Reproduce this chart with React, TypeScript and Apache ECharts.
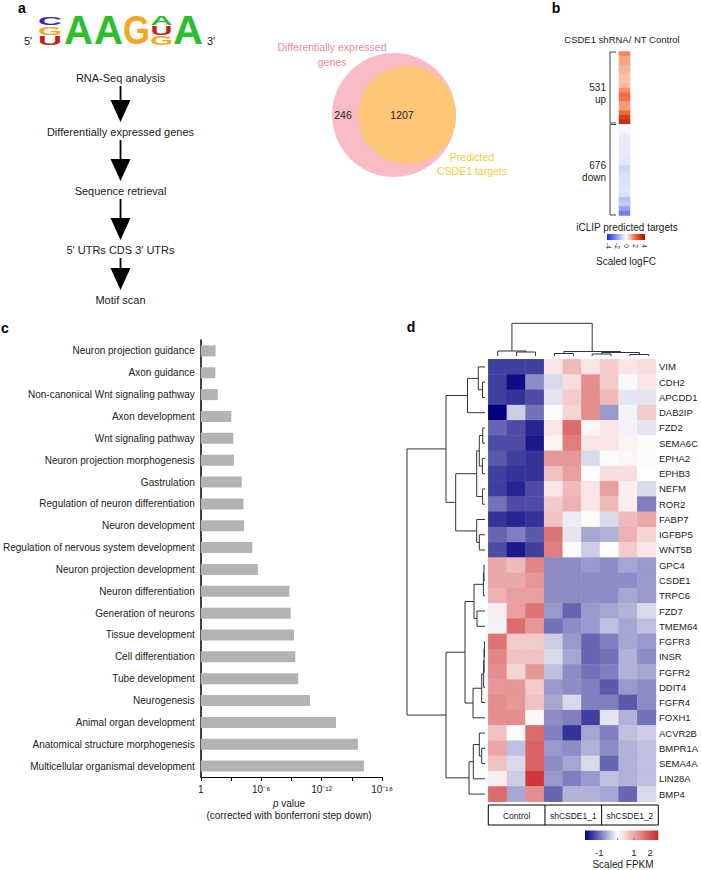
import React, { useEffect, useRef } from "react";
import * as echarts from "echarts";

const FONT = '"Liberation Sans", Arial, Helvetica, sans-serif';
const INK = "#222222";

// ---------- panel c : GO terms ----------
const goTerms = [
  "Neuron projection guidance",
  "Axon guidance",
  "Non-canonical Wnt signaling pathway",
  "Axon development",
  "Wnt signaling pathway",
  "Neuron projection morphogenesis",
  "Gastrulation",
  "Regulation of neuron differentiation",
  "Neuron development",
  "Regulation of nervous system development",
  "Neuron projection development",
  "Neuron differentiation",
  "Generation of neurons",
  "Tissue development",
  "Cell differentiation",
  "Tube development",
  "Neurogenesis",
  "Animal organ development",
  "Anatomical structure morphogenesis",
  "Multicellular organismal development",
];
// -log10(p)
const goNegLog10P = [1.47, 1.45, 1.69, 3.03, 3.23, 3.29, 4.07, 4.24, 4.3, 5.12, 5.67, 8.8, 8.93, 9.26, 9.39, 9.68, 10.86, 13.43, 15.6, 16.2];
const pTickStep = 3;
const pLabelStep = 6;
const pMax = 18;

// ---------- panel d : heatmap ----------
const samples = ["C1", "C2", "C3", "sh1a", "sh1b", "sh1c", "sh2a", "sh2b", "sh2c"];
const sampleGroups = ["Control", "shCSDE1_1", "shCSDE1_2"];
const genes = [
  "VIM", "CDH2", "APCDD1", "DAB2IP", "FZD2", "SEMA6C", "EPHA2", "EPHB3", "NEFM", "ROR2",
  "FABP7", "IGFBP5", "WNT5B", "GPC4", "CSDE1", "TRPC6", "FZD7", "TMEM64", "FGFR3", "INSR",
  "FGFR2", "DDIT4", "FGFR4", "FOXH1", "ACVR2B", "BMPR1A", "SEMA4A", "LIN28A", "BMP4",
];
const scaledFpkm = [
  [-1.5, -1.5, -1.5, 0.3, 0.8, 0.3, 0.6, 0.3, 0.4],
  [-1.5, -1.9, -0.9, -0.3, 0.4, 1.3, 0.6, -0.05, 0.3],
  [-1.5, -1.6, -1.4, -0.2, 0.6, 1.3, 0.8, -0.2, -0.2],
  [-2.0, -0.4, -1.1, 0.05, 0.5, 1.3, -0.8, -0.1, 0.6],
  [-1.2, -1.4, -1.7, 0.3, 1.7, 0.1, 0.3, -0.1, -0.2],
  [-1.4, -1.4, -1.8, 0.15, 1.5, 0.3, 0.3, 0.15, 0.05],
  [-1.3, -1.5, -1.6, 1.2, 1.2, -0.3, 0.05, 0.1, 0.05],
  [-1.5, -1.6, -1.6, 0.7, 1.1, 0.0, 0.4, 0.4, 0.0],
  [-1.5, -1.7, -1.4, 0.3, 0.8, 0.3, 1.1, 0.2, -0.3],
  [-1.1, -1.4, -1.4, 0.6, 0.9, 0.3, 0.8, 0.2, -1.0],
  [-1.6, -1.7, -1.6, 0.7, -0.15, 0.05, -0.3, 0.8, 1.0],
  [-1.2, -1.0, -1.3, 1.6, -0.2, -0.7, -0.6, 0.9, 0.5],
  [-1.4, -1.8, -1.5, 1.5, 0.05, -0.4, 0.0, 0.6, 0.3],
  [1.0, 0.8, 1.4, -0.9, -0.9, -0.8, -0.9, -0.7, -0.8],
  [1.0, 1.0, 1.2, -0.9, -0.9, -0.9, -0.9, -0.9, -0.8],
  [0.9, 1.1, 1.1, -0.9, -0.9, -0.9, -0.9, -0.7, -0.8],
  [0.2, 1.1, 1.6, -0.8, -1.2, -0.8, -0.7, -0.6, -0.3],
  [-0.1, 1.7, 1.2, -1.1, -0.9, -0.8, -0.5, -0.7, -0.5],
  [1.6, 0.6, 0.6, -0.4, -0.8, -1.2, -1.0, -0.7, -0.8],
  [1.4, 0.7, 0.7, -0.3, -0.7, -1.2, -1.1, -0.6, -0.9],
  [1.3, 0.5, 1.2, -0.5, -0.9, -1.1, -1.0, -0.6, -0.7],
  [1.2, 1.2, 0.6, -0.8, -0.9, -1.0, -1.3, -0.8, -0.9],
  [1.3, 1.2, 0.7, -0.7, -0.3, -1.0, -1.0, -1.3, -0.9],
  [1.3, 1.3, 0.1, -0.9, -1.0, -1.5, -0.2, -0.6, -1.1],
  [0.7, 0.05, 1.7, -1.0, -1.6, -0.7, -1.0, -0.5, -0.4],
  [1.0, -0.5, 1.8, -0.8, -0.9, -0.6, -0.9, -0.6, -0.5],
  [0.7, -0.3, 1.8, -0.9, -0.7, -0.3, -1.2, -0.6, -0.5],
  [0.2, -0.4, 2.3, -0.8, -1.0, -0.8, -0.5, -0.6, -0.5],
  [1.7, -0.7, 1.3, -1.2, -0.6, -0.6, -0.7, -1.2, -0.3],
];
// dendrograms: [mergeHeight, left, right]; leaves are row / column indices
const rowTree: any = [78,
  [39,
    [17.5, [6.7, 0, [2.5, 1, 2]], 3],
    [29.3, [8.3, [5.7, [2.3, 4, 5], [2.6, 6, 7]], [2.4, 8, 9]], [8.3, 10, [5.7, 11, 12]]]],
  [39,
    [20,
      [11, [1.6, [1, 13, 14], 15], [8, 16, 17]],
      [12, [3.3, [1.4, [0.9, [0.6, 18, 19], 20], 21], 22], 23]],
    [16, [11.7, [5.7, 24, [3.3, 25, 26]], 27], 28]],
];
const colTree: any = [32.7, [5, 0, [4, 1, 2]], [4.5, [2.5, 3, 4], [3.5, [2, 5, 6], [1.5, 7, 8]]]];
const fpkmColors = ["#000080", "#4040A0", "#8080C0", "#BFBFDF", "#FFFFFF", "#F5D4D4", "#EBA8A8", "#E17D7D", "#D75151", "#CD2626"];
const fpkmMin = -2;
const fpkmMax = 2.5;
const fpkmTicks = [-1, 0, 1, 2];
const fpkmTickLabels = ["-1", "", "1", "2"];

// ---------- panel b : logFC strip ----------
const stripUp = [1.6, 1.2, 1.2, 1.0, 1.0, 0.8, 0.8, 0.9, 1.4, 1.9, 1.8, 1.3, 1.3, 2.0, 2.8, 3.2];
const stripDown = [-0.15, -0.2, -0.35, -0.4, -0.4, -0.35, -0.4, -0.45, -0.5, -0.8, -0.7, -0.6, -0.6, -0.55, -0.5, -0.6, -1.2, -1.0, -1.8, -2.4];
const upCount = 531;
const downCount = 676;
const logfcColors = ["#1428E6", "#8C96F0", "#FFFFFF", "#F56432", "#961405"];
const logfcTicks = ["-4", "-2", "0", "2", "4"];

// ---------- panel a : venn + pipeline ----------
const vennOnlyDE = 246;
const vennBoth = 1207;
const flowSteps = ["RNA-Seq analysis", "Differentially expressed genes", "Sequence retrieval", "5\u2032 UTRs CDS 3\u2032 UTRs", "Motif scan"];

const SUP: Record<string, string> = { "0": "\u2070", "1": "\u00b9", "2": "\u00b2", "3": "\u00b3", "4": "\u2074", "5": "\u2075", "6": "\u2076", "7": "\u2077", "8": "\u2078", "9": "\u2079", "-": "\u207b" };
const sup = (s: string) => s.split("").map((c) => SUP[c] || c).join("");

function dendroSegments(tree: any, horizontal: boolean) {
  const out: any[] = [];
  const walk = (n: any): { p: number; h: number } => {
    if (typeof n === "number") return { p: n, h: 0 };
    const l = walk(n[1]);
    const r = walk(n[2]);
    const h = n[0];
    const pts = [[l.p, l.h], [l.p, h], [r.p, h], [r.p, r.h]];
    out.push({ coords: horizontal ? pts.map(([p, v]) => [v, p]) : pts });
    return { p: (l.p + r.p) / 2, h };
  };
  walk(tree);
  return out;
}

function txt(x: number, y: number, text: string, size: number, opts: any = {}) {
  return {
    type: "text",
    x,
    y,
    rotation: opts.rotation || 0,
    silent: true,
    style: {
      text,
      fill: opts.fill || INK,
      fontSize: size,
      fontFamily: FONT,
      fontWeight: opts.weight || "normal",
      align: opts.align || "center",
      verticalAlign: "middle",
      rich: opts.rich,
    },
  };
}

function logoLetter(cx: number, cy: number, ch: string, color: string, w: number, h: number) {
  const widths: Record<string, number> = { A: 0.722, C: 0.722, G: 0.778, U: 0.722 };
  const fs = 40;
  return {
    type: "text",
    x: cx,
    y: cy,
    scaleX: w / (widths[ch] * fs),
    scaleY: h / (0.729 * fs),
    silent: true,
    style: { text: ch, fill: color, fontSize: fs, fontFamily: FONT, fontWeight: "bold", align: "center", verticalAlign: "middle" },
  };
}

function gradStops(colors: string[]) {
  return colors.map((c, i) => ({ offset: i / (colors.length - 1), color: c }));
}

export default function App() {
  const ref = useRef<HTMLDivElement>(null);
  useEffect(() => {
    if (!ref.current) return;
    const chart = echarts.init(ref.current, undefined, { renderer: "svg" });

    const heatData: any[] = [];
    scaledFpkm.forEach((row, r) => row.forEach((v, c) => heatData.push([c, r, v])));
    const strip = [...stripUp, ...stripDown];
    const stripData = strip.map((v, i) => [0, i, v]);

    const BLUE = "#2B2BC8", GREEN = "#2DBE2D", ORANGE = "#F5A623", RED = "#C21F1F";
    const g: any[] = [];
    // panel labels
    g.push(txt(22, 8, "a", 14, { weight: "bold", fill: "#000" }));
    g.push(txt(556, 8, "b", 14, { weight: "bold", fill: "#000" }));
    g.push(txt(5, 328, "c", 14, { weight: "bold", fill: "#000" }));
    g.push(txt(411, 327, "d", 14, { weight: "bold", fill: "#000" }));
    // motif logo
    g.push(txt(28, 41, "5\u2032", 11));
    g.push(txt(211, 41, "3\u2032", 11));
    g.push(logoLetter(50, 21, "C", BLUE, 24, 8.5));
    g.push(logoLetter(50, 31, "G", ORANGE, 24, 8.5));
    g.push(logoLetter(50, 40.5, "U", RED, 24, 9));
    g.push(logoLetter(78.5, 30.5, "A", GREEN, 29, 29));
    g.push(logoLetter(108.5, 30.5, "A", GREEN, 29, 29));
    g.push(logoLetter(136.5, 30.5, "G", ORANGE, 27, 29));
    g.push(logoLetter(161.5, 20.5, "A", GREEN, 22, 9));
    g.push(logoLetter(161.5, 30.5, "U", RED, 22, 9));
    g.push(logoLetter(161.5, 40.5, "G", ORANGE, 23, 9));
    g.push(logoLetter(188, 30.5, "A", GREEN, 30, 29));
    // flow chart
    const flowY = [78, 132, 191, 250, 300];
    flowSteps.forEach((s, i) => {
      g.push(txt(120.5, flowY[i], s, 11));
      if (i < flowSteps.length - 1) {
        const tip = flowY[i + 1] - 10;
        g.push({ type: "line", silent: true, shape: { x1: 120.5, y1: flowY[i] + 8, x2: 120.5, y2: tip - 20 }, style: { stroke: "#000", lineWidth: 1.8 } });
        g.push({ type: "polygon", silent: true, shape: { points: [[110.5, tip - 22], [130.5, tip - 22], [120.5, tip]] }, style: { fill: "#000" } });
      }
    });
    // venn
    g.push({ type: "circle", silent: true, shape: { cx: 394, cy: 115, r: 62 }, style: { fill: "#F9BCC4" } });
    g.push({ type: "circle", silent: true, shape: { cx: 407, cy: 115, r: 49 }, style: { fill: "#FCC877" } });
    g.push(txt(343, 115, String(vennOnlyDE), 10.5));
    g.push(txt(402, 115, String(vennBoth), 10.5));
    g.push(txt(332, 47, "Differentially expressed", 10.5, { fill: "#EF8A94" }));
    g.push(txt(332, 62, "genes", 10.5, { fill: "#EF8A94" }));
    g.push(txt(472, 157, "Predicted", 10.5, { fill: "#F0CD3A" }));
    g.push(txt(472, 171, "CSDE1 targets", 10.5, { fill: "#F0CD3A" }));
    // panel b texts
    g.push(txt(622, 39, "CSDE1 shRNA/ NT Control", 9.5));
    g.push(txt(606, 87, String(upCount), 10, { align: "right" }));
    g.push(txt(606, 99, "up", 10, { align: "right" }));
    g.push(txt(606, 165, String(downCount), 10, { align: "right" }));
    g.push(txt(606, 177, "down", 10, { align: "right" }));
    const bracket = (y1: number, y2: number) => ({
      type: "polyline", silent: true,
      shape: { points: [[616, y1], [610, y1], [610, y2], [616, y2]] },
      style: { stroke: "#444", lineWidth: 1, fill: null },
    });
    g.push(bracket(52, 123));
    g.push(bracket(124.5, 215));
    g.push(txt(627, 227, "iCLIP predicted targets", 10));
    g.push({ type: "rect", silent: true, shape: { x: 607, y: 234, width: 38, height: 6 },
      style: { fill: new echarts.graphic.LinearGradient(0, 0, 1, 0, gradStops(logfcColors)) } });
    logfcTicks.forEach((t, i) => g.push(txt(608.5 + i * 8.9, 246, t, 6.5, { rotation: -Math.PI / 2 })));
    g.push(txt(626, 261, "Scaled logFC", 10));
    // panel c axis title
    g.push({ type: "text", x: 289, y: 803, silent: true,
      style: { text: "{i|p} value", fill: INK, fontSize: 10, fontFamily: FONT, align: "center", verticalAlign: "middle",
        rich: { i: { fontStyle: "italic", fontSize: 10, fontFamily: FONT, fill: INK } } } });
    g.push(txt(289, 815, "(corrected with bonferroni step down)", 10));
    // panel d annotation boxes
    const cw = 170 / 9;
    g.push({ type: "rect", silent: true, shape: { x: 488.3, y: 805, width: 170, height: 20 }, style: { fill: "none", stroke: "#000", lineWidth: 1 } });
    sampleGroups.forEach((s, i) => {
      if (i > 0) g.push({ type: "line", silent: true, shape: { x1: 488.3 + i * 3 * cw, y1: 805, x2: 488.3 + i * 3 * cw, y2: 825 }, style: { stroke: "#000", lineWidth: 1 } });
      g.push(txt(488.3 + (i * 3 + 1.5) * cw, 815.5, s, 8.5));
    });
    // fpkm colour bar
    const cbX0 = 585, cbW = 73.3;
    const vx = (v: number) => cbX0 + ((v - fpkmMin) / (fpkmMax - fpkmMin)) * cbW;
    g.push({ type: "rect", silent: true, shape: { x: cbX0, y: 830.5, width: cbW, height: 9.5 },
      style: { fill: new echarts.graphic.LinearGradient(0, 0, 1, 0, gradStops(fpkmColors)) } });
    fpkmTicks.forEach((t, i) => {
      g.push({ type: "line", silent: true, shape: { x1: vx(t), y1: 838, x2: vx(t), y2: 840 }, style: { stroke: "#666", lineWidth: 0.8 } });
      if (fpkmTickLabels[i]) g.push(txt(vx(t) + (t < 0 ? -2 : 0), 852, fpkmTickLabels[i], 9.5));
    });
    g.push(txt(623, 864, "Scaled FPKM", 10));

    const hiddenVal = (o: any) => ({ type: "value", show: false, ...o });
    const option: any = {
      animation: false,
      textStyle: { fontFamily: FONT },
      grid: [
        { left: 198, top: 340, width: 184, height: 437 },
        { left: 488.3, top: 359.3, width: 170, height: 442.4 },
        { left: 619, top: 51.5, width: 11, height: 164 },
        { left: 405, top: 359.3, width: 80, height: 442.4 },
        { left: 488.3, top: 322, width: 170, height: 34 },
      ],
      xAxis: [
        {
          type: "value", gridIndex: 0, min: 0, max: pMax, interval: pTickStep,
          axisLine: { show: true, lineStyle: { color: "#000", width: 1 } },
          axisTick: { show: true, length: 4, lineStyle: { color: "#000" } },
          splitLine: { show: false },
          axisLabel: {
            color: INK, fontSize: 10, margin: 7,
            formatter: (v: number) => (v === 0 ? "1" : v % pLabelStep === 0 ? "10" + sup("-" + v) : ""),
          },
        },
        { type: "category", gridIndex: 1, data: samples, show: false },
        { type: "category", gridIndex: 2, data: [""], show: false },
        hiddenVal({ gridIndex: 3, min: 0, max: 80, inverse: true }),
        hiddenVal({ gridIndex: 4, min: -0.5, max: 8.5 }),
      ],
      yAxis: [
        {
          type: "category", gridIndex: 0, data: goTerms, inverse: true,
          axisLine: { show: true, lineStyle: { color: "#000", width: 1.5 } },
          axisTick: { show: false },
          axisLabel: { color: INK, fontSize: 10, margin: 6 },
        },
        {
          type: "category", gridIndex: 1, data: genes, inverse: true, position: "right",
          axisLine: { show: false }, axisTick: { show: false },
          axisLabel: { color: INK, fontSize: 9.5, margin: 3 },
        },
        { type: "category", gridIndex: 2, data: strip.map((_, i) => String(i)), inverse: true, show: false },
        hiddenVal({ gridIndex: 3, min: -0.5, max: genes.length - 0.5, inverse: true }),
        hiddenVal({ gridIndex: 4, min: 0, max: 34 }),
      ],
      visualMap: [
        { type: "continuous", show: false, seriesIndex: 1, dimension: 2, min: fpkmMin, max: fpkmMax, inRange: { color: fpkmColors } },
        { type: "continuous", show: false, seriesIndex: 2, dimension: 2, min: -4, max: 4, inRange: { color: logfcColors } },
      ],
      series: [
        { type: "bar", xAxisIndex: 0, yAxisIndex: 0, data: goNegLog10P, barWidth: 11, itemStyle: { color: "#B3B3B3" }, silent: true },
        { type: "heatmap", xAxisIndex: 1, yAxisIndex: 1, data: heatData, silent: true, emphasis: { disabled: true } },
        { type: "heatmap", xAxisIndex: 2, yAxisIndex: 2, data: stripData, silent: true, emphasis: { disabled: true } },
        { type: "lines", coordinateSystem: "cartesian2d", xAxisIndex: 3, yAxisIndex: 3, polyline: true, silent: true,
          data: dendroSegments(rowTree, true), lineStyle: { color: "#333", width: 1, opacity: 1 } },
        { type: "lines", coordinateSystem: "cartesian2d", xAxisIndex: 4, yAxisIndex: 4, polyline: true, silent: true,
          data: dendroSegments(colTree, false), lineStyle: { color: "#333", width: 1, opacity: 1 } },
      ],
      graphic: { elements: g },
    };
    chart.setOption(option);
    return () => chart.dispose();
  }, []);
  return <div ref={ref} style={{ position: "absolute", left: 0, top: 0, width: 701, height: 870 }} />;
}
